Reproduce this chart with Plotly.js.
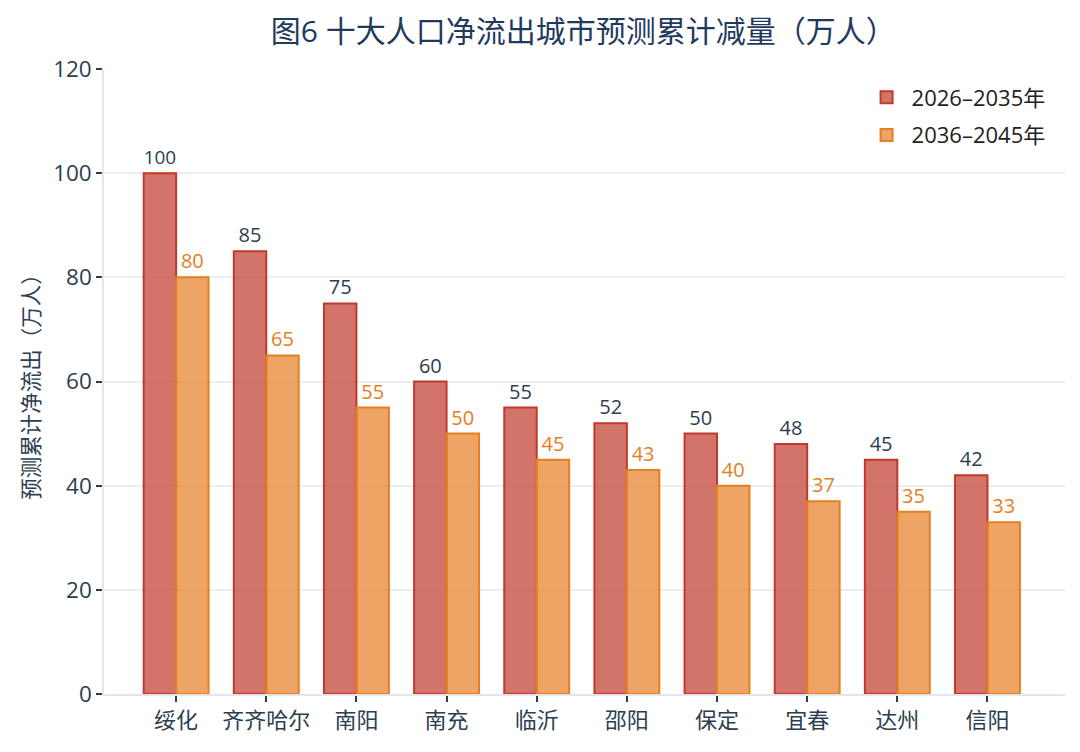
<!DOCTYPE html>
<html>
<head>
<meta charset="utf-8">
<script src="https://cdn.plot.ly/plotly-3.0.1.min.js"></script>
<style>
  html, body { margin: 0; padding: 0; background: #fff; }
  #chart { width: 1080px; height: 752px; }
</style>
</head>
<body>
<div id="chart"></div>
<script>
// cities and projected cumulative net outflow (10k people)
const cities = ["绥化", "齐齐哈尔", "南阳", "南充", "临沂", "邵阳", "保定", "宜春", "达州", "信阳"];
const period1 = [100, 85, 75, 60, 55, 52, 50, 48, 45, 42];
const period2 = [80, 65, 55, 50, 45, 43, 40, 37, 35, 33];
const seriesNames = ["2026–2035年", "2036–2045年"];
const yTicks = [0, 20, 40, 60, 80, 100, 120];

// latin glyphs from Open Sans, CJK falls back to Noto Sans CJK
const font = "'Open Sans', 'Noto Sans CJK SC', sans-serif";
const textDark = "#2c3e50";

const traces = [
    {
        type: "bar",
        name: seriesNames[0],
        legendgroup: "p1",
        x: cities,
        y: period1,
        marker: {
            color: "rgba(192,57,43,0.7)",
            line: { color: "#c0392b", width: 2 }
        },
        text: period1.map(String),
        textposition: "outside",
        textfont: { family: font, size: 20, color: textDark },
        cliponaxis: false,
        hoverinfo: "x+y"
    },
    {
        type: "bar",
        name: seriesNames[1],
        legendgroup: "p2",
        x: cities,
        y: period2,
        marker: {
            color: "rgba(230,126,34,0.7)",
            line: { color: "#e67e22", width: 2 }
        },
        text: period2.map(String),
        textposition: "outside",
        textfont: { family: font, size: 20, color: "#e67e22" },
        cliponaxis: false,
        hoverinfo: "x+y"
    }
];

const layout = {
    width: 1080,
    height: 752,
    margin: { t: 69, b: 58, l: 104, r: 15 },
    paper_bgcolor: "#ffffff",
    plot_bgcolor: "#ffffff",
    font: { family: font, color: textDark },
    title: {
        text: "图6 十大人口净流出城市预测累计减量（万人）",
        font: { family: font, size: 30, color: "#1f3a5c" },
        x: 0.54,
        xanchor: "center",
        y: 0.958,
        yanchor: "middle"
    },
    barmode: "group",
    bargap: 0.28,
    bargroupgap: 0,
    xaxis: {
        type: "category",
        range: [-0.8, 9.86],
        showline: true,
        linecolor: "#e3e6ea",
        linewidth: 1.5,
        ticks: "outside",
        ticklen: 6,
        tickwidth: 1.5,
        tickcolor: "#2c3e50",
        tickfont: { family: font, size: 22, color: textDark },
        showgrid: false
    },
    yaxis: {
        range: [0, 120],
        tickvals: yTicks,
        showline: true,
        linecolor: "#e3e6ea",
        linewidth: 1.5,
        ticks: "outside",
        ticklen: 6,
        tickwidth: 1.5,
        tickcolor: "#2c3e50",
        tickfont: { family: font, size: 22.5, color: textDark },
        showgrid: true,
        gridcolor: "#eceef1",
        gridwidth: 1.5,
        zeroline: false,
        title: {
            text: "预测累计净流出（万人）",
            font: { family: font, size: 21.5, color: textDark },
            standoff: 8
        }
    },
    legend: {
        x: 0.985,
        xanchor: "right",
        y: 0.988,
        yanchor: "top",
        bgcolor: "rgba(255,255,255,0)",
        font: { family: font, size: 22, color: "#222" },
        itemwidth: 40,
        tracegroupgap: 6
    },
    showlegend: true
};

Plotly.newPlot("chart", traces, layout, { displayModeBar: false, responsive: false });
</script>
</body>
</html>
